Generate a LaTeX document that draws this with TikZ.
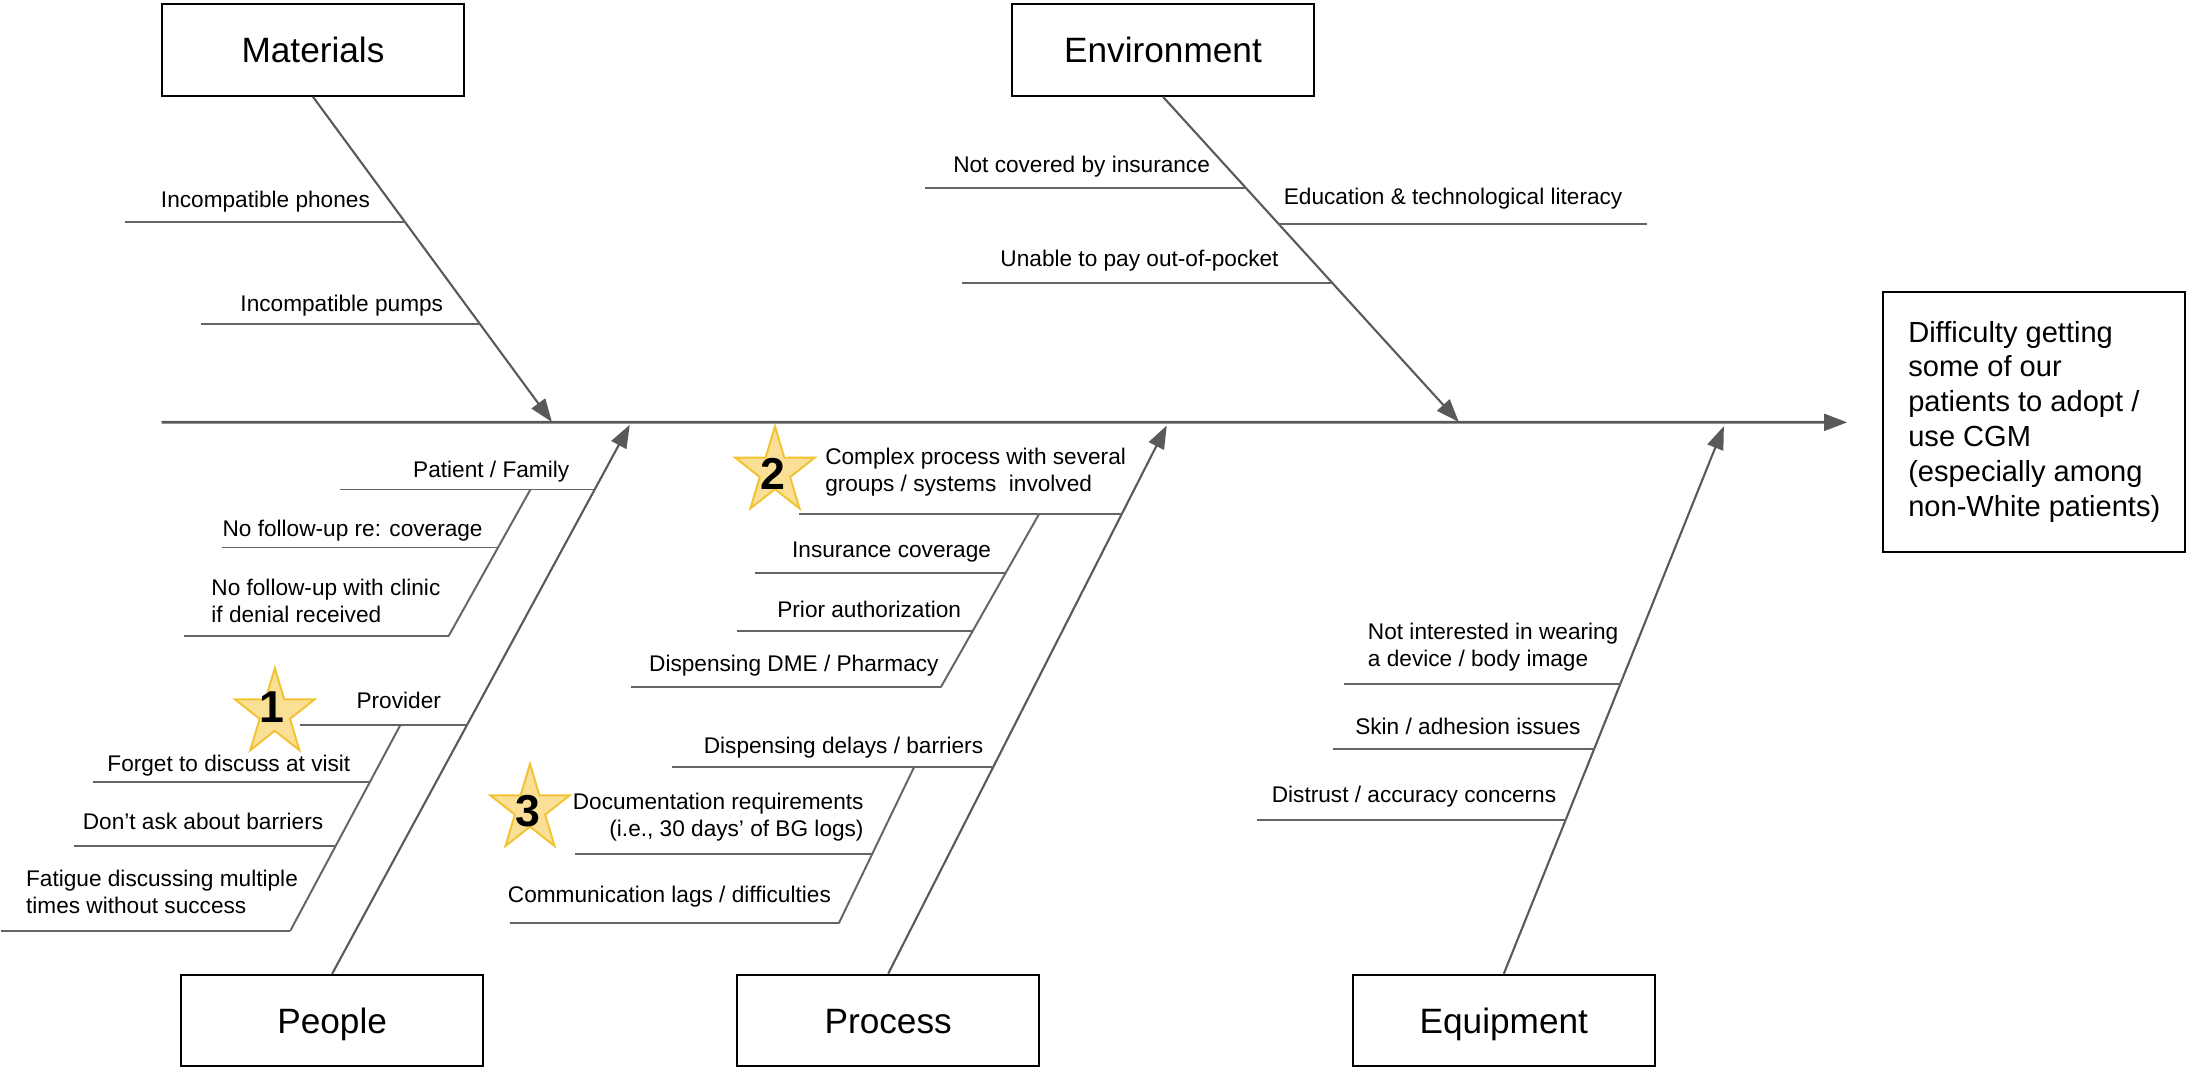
\documentclass[tikz,border=0pt]{standalone}
\usepackage{fontspec}
\setmainfont{Liberation Sans}
\usetikzlibrary{arrows.meta}

\definecolor{bonegray}{RGB}{89,89,89}
\definecolor{twiggray}{RGB}{100,100,100}
\definecolor{starfill}{RGB}{250,224,150}
\definecolor{stargold}{RGB}{241,194,50}

\newcommand{\itemsize}{\fontsize{16.2}{19.2}\selectfont}
\newcommand{\catsize}{\fontsize{25.2}{30}\selectfont}
\newcommand{\effsize}{\fontsize{20.8}{25}\selectfont}
\newcommand{\numsize}{\fontsize{32}{36}\selectfont\bfseries}
\newcommand{\leftlines}[1]{\begin{tabular}[t]{@{}l@{}}#1\end{tabular}}
\newcommand{\rightlines}[1]{\begin{tabular}[t]{@{}r@{}}#1\end{tabular}}

\tikzset{
  catbox/.style={draw=black, line width=1.5pt, minimum width=216.5pt,
    minimum height=65.5pt, inner sep=0pt, font=\catsize,
    text height=18pt, text depth=0pt},
  effectbox/.style={draw=black, line width=1.5pt, minimum width=216.3pt,
    minimum height=186.1pt, inner sep=0pt, font=\effsize},
  bone/.style={draw=bonegray, line width=1.5pt,
    -{Triangle[length=16.5pt,width=12pt]}},
  spine/.style={draw=bonegray, line width=2pt,
    -{Triangle[length=16.5pt,width=12pt]}},
  twig/.style={draw=twiggray, line width=1.4pt},
  itemtext/.style={font=\itemsize, inner sep=0pt, anchor=base west},
  itemtextr/.style={font=\itemsize, inner sep=0pt, anchor=base east},
  numtext/.style={font=\numsize, inner sep=0pt, text height=22.9pt, text depth=0pt},
  pics/ratingstar/.style={code={
    \path[fill=starfill, draw=stargold, line width=1.4pt, line join=miter,
          xscale=0.92]
      (90:32.5pt) -- (126:12.4pt) -- (162:32.5pt) -- (198:12.4pt)
      -- (234:32.5pt) -- (270:12.4pt) -- (306:32.5pt) -- (342:12.4pt)
      -- (18:32.5pt) -- (54:12.4pt) -- cycle;
  }}
}

\begin{document}
\begin{tikzpicture}[x=1pt,y=-1pt]
\useasboundingbox (0,0) rectangle (1568,764);

% category boxes and effect
\node[catbox] (mat)   at (224,35.8)    {Materials};
\node[catbox] (env)   at (832.3,35.8)  {Environment};
\node[catbox] (ppl)   at (237.7,730.4) {People};
\node[catbox] (proc)  at (635.6,730.4) {Process};
\node[catbox] (equip) at (1076.2,730.4){Equipment};
\node[effectbox] (effect) at (1455.85,302.25)
  {\leftlines{Difficulty getting\\some of our\\patients to adopt /\\use CGM\\(especially among\\non-White patients)}};

% spine
\coordinate (tail) at (115.7,302.2);
\draw[spine, shorten >=25pt] (tail) -- (effect.west);

% main bones
\coordinate (mtip) at (395,302);
\coordinate (etip) at (1044,302);
\coordinate (ptip) at (450.7,304);
\coordinate (rtip) at (835,304.5);
\coordinate (qtip) at (1233.7,305);
\draw[bone] (mat.south) -- (mtip);
\draw[bone] (env.south) -- (etip);
\draw[bone] (ppl.north) -- (ptip);
\draw[bone] (proc.north) -- (rtip);
\draw[bone] (equip.north) -- (qtip);

% Materials causes
\node[itemtext] (m1) at (115,148.4) {Incompatible phones};
\draw[twig] (89.8,158.7) -- (290.0,158.7);
\node[itemtext] (m2) at (171.9,223.1) {Incompatible pumps};
\draw[twig] (143.8,231.9) -- (343.6,231.9);

% Environment causes
\node[itemtext] (e1) at (682,123.4) {Not covered by insurance};
\draw[twig] (661.8,134.8) -- (892.3,134.8);
\node[itemtext] (e2) at (918.6,146.3) {Education \& technological literacy};
\draw[twig] (915.4,160.3) -- (1178.5,160.3);
\node[itemtext] (e3) at (715.8,190.9) {Unable to pay out-of-pocket};
\draw[twig] (688.6,202.3) -- (953.5,202.3);

% People causes
\node[itemtext] (p1) at (295.5,341.4) {Patient / Family};
\draw[twig] (243.5,350.3) -- (425.7,350.3);
\coordinate (pfa) at (379.6,350.3);
\coordinate (pfb) at (321.1,455.1);
\draw[twig] (pfa) -- (pfb);
\node[itemtext] (p2) at (159.1,384.1) {No follow-up re: coverage};
\draw[twig] (159.1,391.8) -- (356.4,391.8);
\node[itemtext] (p3) at (151.1,426.4) {\leftlines{No follow-up with clinic\\if denial received}};
\draw[twig] (132,455.1) -- (pfb);

\pic (star1) at (196.7,510.6) {ratingstar};
\node[numtext] (n1) at (194.4,505.7) {1};
\node[itemtext] (p4) at (255,506.9) {Provider};
\draw[twig] (214.7,518.7) -- (334.6,518.7);
\coordinate (pva) at (286.6,518.7);
\coordinate (pvb) at (207.7,666.2);
\draw[twig] (pva) -- (pvb);
\node[itemtext] (p5) at (76.7,552.2) {Forget to discuss at visit};
\draw[twig] (66.5,559.9) -- (264.6,559.9);
\node[itemtext] (p6) at (59.1,593.6) {Don’t ask about barriers};
\draw[twig] (52.7,605.5) -- (240.2,605.5);
\node[itemtext] (p7) at (18.5,634.5) {\leftlines{Fatigue discussing multiple\\times without success}};
\draw[twig] (1,666.2) -- (pvb);

% Process causes
\pic (star2) at (554.6,337.6) {ratingstar};
\node[numtext] (n2) at (553.4,338.8) {2};
\node[itemtext] (r1) at (590.4,332.7) {\leftlines{Complex process with several\\groups / systems\ \ involved}};
\draw[twig] (572.1,367.7) -- (803,367.7);
\coordinate (cxa) at (743.7,367.7);
\coordinate (cxb) at (673.3,491.8);
\draw[twig] (cxa) -- (cxb);
\node[itemtext] (r2) at (566.7,399) {Insurance coverage};
\draw[twig] (540,410.3) -- (719.5,410.3);
\node[itemtext] (r3) at (556.1,442.2) {Prior authorization};
\draw[twig] (527.6,451.4) -- (696.2,451.4);
\node[itemtext] (r4) at (464.4,480.3) {Dispensing DME / Pharmacy};
\draw[twig] (451.7,491.8) -- (cxb);

\node[itemtext] (r5) at (503.5,539) {Dispensing delays / barriers};
\draw[twig] (480.9,548.7) -- (711.2,548.7);
\coordinate (dda) at (654.3,548.7);
\coordinate (ddb) at (600.3,660.7);
\draw[twig] (dda) -- (ddb);
\pic (star3) at (379.3,579.2) {ratingstar};
\node[numtext] (n3) at (377.6,579.7) {3};
\node[itemtextr] (r6) at (618.2,579.1) {\rightlines{Documentation requirements\\(i.e., 30 days’ of BG logs)}};
\draw[twig] (411.5,611.1) -- (624.2,611.1);
\node[itemtext] (r7) at (363.3,646.1) {Communication lags / difficulties};
\draw[twig] (365.1,660.7) -- (ddb);

% Equipment causes
\node[itemtext] (q1) at (978.8,457.5) {\leftlines{Not interested in wearing\\a device / body image}};
\draw[twig] (961.5,489.4) -- (1159.8,489.4);
\node[itemtext] (q2) at (969.7,525.9) {Skin / adhesion issues};
\draw[twig] (954.1,536) -- (1141.1,536);
\node[itemtext] (q3) at (910,574.6) {Distrust / accuracy concerns};
\draw[twig] (899.3,586.7) -- (1120.8,586.7);
\end{tikzpicture}
\end{document}
